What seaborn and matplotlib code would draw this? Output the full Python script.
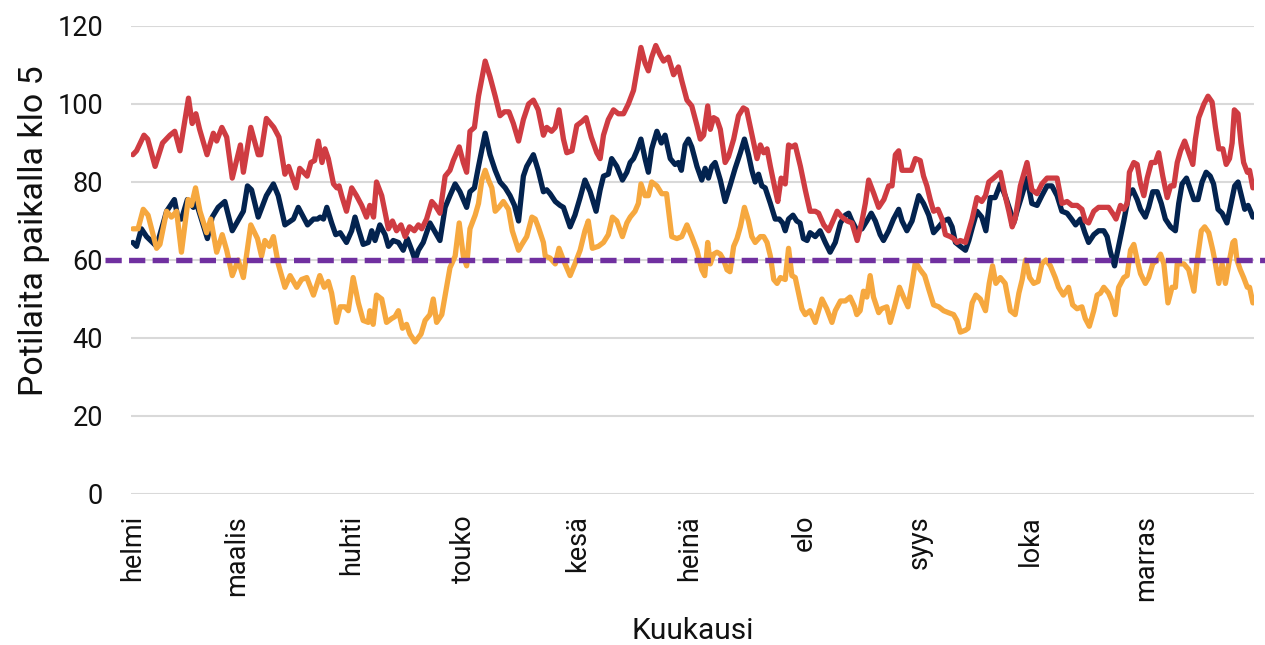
import numpy as np
import pandas as pd
import seaborn as sns
import matplotlib.pyplot as plt

# daily patient counts at 5 o'clock (day 0 = 1 Feb)
start = pd.Timestamp("2023-02-01")
months = ["helmi", "maalis", "huhti", "touko", "kesä", "heinä", "elo", "syys", "loka", "marras"]
target = 60

red_days = [0, 1, 3, 4, 6, 8, 10, 11.3, 12.7, 15, 16, 17, 18, 20, 21.7, 22.6, 24, 25.3, 26.8, 29, 29.8, 31.8, 33.8, 34.5,
            36, 38, 39.4, 41, 42, 44, 45, 47, 48, 49, 50, 51, 51.8, 52.7, 54.1, 55, 55.6, 56.3, 57.6, 59, 60.3, 61.7, 63,
            63.9, 64.9, 65.7, 67.1, 68.9, 70, 71.1, 72.3, 73.4, 74.6, 75.9, 77, 77.9, 79.2, 80.6, 81.5, 82.8, 84.2, 85.5,
            86.4, 88, 89.1, 90, 90.9, 92.1, 93.2, 95, 96.3, 97.7, 99, 100.2, 101.4, 102.6, 104, 105.3, 106.7, 108, 109.3,
            110.7, 111.6, 112.9, 113.9, 114.9, 116.1, 117, 118.4, 119.7, 121.1, 122.2, 123.6, 125.1, 126, 126.9, 128.2,
            129.6, 130.9, 132.3, 133.6, 135, 135.9, 137, 138.1, 139, 139.9, 141, 142.2, 143.1, 144.4, 145.8, 147.1, 148,
            149.4, 150.7, 152.1, 153, 153.9, 155, 155.7, 156.6, 157.5, 158.4, 159.7, 160.6, 162, 163.3, 164.6, 165.5,
            166.5, 167.4, 168.3, 169.2, 170.1, 171, 171.9, 173.2, 173.9, 174.8, 175.9, 176.8, 177.7, 178.6, 180, 181.3,
            182.6, 184, 184.9, 186.3, 187.6, 189, 189.9, 191.2, 192.6, 193.9, 195.3, 196.6, 197.5, 198.4, 199.8, 201.1,
            202.5, 203.8, 204.7, 205.6, 206.5, 207.4, 208.7, 209.9, 211, 212.3, 213.2, 214.1, 215, 215.9, 217.1, 218.2,
            219.1, 220.4, 221.3, 222.2, 223.1, 224.5, 225.4, 226.3, 227.6, 228.9, 229.9, 230.8, 232.1, 233.9, 235.2,
            236.2, 237.1, 237.9, 239.3, 241.1, 242.4, 243.8, 245.1, 246.5, 247.8, 249.2, 250.5, 251.9, 253.2, 254.6,
            255.9, 256.8, 257.7, 259.1, 260.4, 262.2, 263.1, 264.5, 265.1, 266.3, 267.2, 268.1, 268.7, 269.9, 270.8,
            271.7, 272.6, 273.5, 274.6, 275.7, 276.6, 277.7, 278.9, 279.8, 280.7, 281.6, 282.5, 283.6, 284.7, 285.8,
            286.5, 287.4, 288.8, 289.9, 291, 291.9, 292.8, 293.9, 294.8, 295.7, 296.4, 297, 298, 298.8, 299.5, 300.5,
            301.1, 302]
red_vals = [87, 88, 92, 91, 84, 90, 92, 93, 88, 101.5, 95, 97.5, 93.5, 87, 92.5, 90.5, 94, 91.5, 81, 89.5, 82.5, 94, 87, 87,
            96.3, 94, 91.5, 82, 84, 78.5, 83.5, 81.5, 85, 85.5, 90.5, 85, 88.5, 86, 79.5, 78.5, 79, 76.5, 72.5, 78.5, 76.5,
            74, 71, 74, 71, 80, 76.5, 68, 70, 67.5, 69, 66, 68.5, 67.5, 69, 68, 70.5, 75, 74, 72, 81.5, 83, 85.5, 89, 85,
            82.5, 93, 94, 102, 111, 107, 102, 97, 98, 98, 95, 90.5, 96, 100, 101, 98.5, 92, 94, 93, 94, 98.5, 91, 87.5,
            88, 94.5, 95.5, 96.5, 91.5, 87.5, 86, 92, 96, 98.5, 97.5, 97.5, 100, 103.5, 108.5, 114.5, 110.5, 108.5, 112,
            115, 112.5, 111, 112, 107.5, 109.5, 106, 101, 99.5, 94.5, 91, 92, 99.5, 93.5, 96.5, 96, 93.5, 85, 86.5, 91,
            97, 99, 98.5, 94, 90, 86, 89.5, 87.5, 88.5, 84, 78, 75, 81, 79.5, 89.5, 89, 89.5, 84, 78, 72.5, 72.5, 72, 69,
            67.5, 70.5, 72.5, 71, 70, 69.5, 65, 70, 74.5, 80.5, 77, 73.5, 75.5, 79, 79, 87, 88, 83, 83, 83, 86, 85.5,
            81.5, 79, 75.5, 72.5, 73, 70.5, 66.5, 66, 65.5, 64.5, 65, 64.5, 67.5, 70.5, 76, 75, 76.5, 80, 81, 82.5, 76.5,
            72.5, 68.5, 70.5, 79, 85, 78, 77, 79.5, 81, 81, 81, 74.5, 75, 74, 74, 73, 70, 69.5, 72.5, 73.5, 73.5, 73.5,
            71.5, 70.5, 74, 73, 74.5, 82.5, 85, 84.5, 79.5, 76.5, 81, 85, 85, 87.5, 81.5, 76, 79, 79, 85, 88, 90.5, 87.5,
            84.5, 91, 96.5, 100, 102, 100.5, 94, 88.5, 88.5, 84.5, 86, 90, 98.5, 97.5, 90, 85, 82.5, 83, 78.5]

navy_days = [0, 1, 2.3, 3.7, 6.4, 9.1, 11.2, 12.2, 13.1, 14.7, 16.3, 17, 20.1, 21.4, 23, 24.8, 26.8, 28.9, 29.8, 30.9, 32,
             33.8, 36, 37.9, 39.2, 41, 43.3, 44.6, 47.1, 48.7, 49.8, 50.5, 51.4, 52.3, 53.6, 54.7, 55.9, 57.6, 59, 59.9,
             60.8, 62.1, 63.5, 64.4, 65.3, 66.6, 68, 68.9, 70.2, 71.6, 72.9, 74, 75.2, 76.1, 77, 78.3, 80.1, 81.3, 82.8,
             84.2, 85.5, 86.9, 88.2, 90, 90.9, 92.1, 93.2, 95, 96.3, 97.7, 99, 100.4, 101.7, 102.9, 104, 105.3, 106.2, 108,
             109.3, 110.7, 111.6, 112.5, 113.9, 115.2, 116.1, 117.9, 119.2, 120.6, 121.9, 123.3, 124.9, 126, 126.9, 128.2,
             129.1, 130.5, 132, 133.2, 134.1, 135, 135.9, 137, 138.1, 139, 139.9, 141.3, 142.5, 143.5, 144.9, 146.2,
             147.1, 147.9, 148.9, 149.8, 150.7, 152.1, 153.4, 154.3, 155.2, 156.1, 157, 158.4, 159.7, 161, 162.4, 163.8,
             164.9, 166, 166.9, 167.8, 168.7, 169.6, 170.5, 171.9, 173.2, 174.3, 175.2, 175.9, 176.8, 178, 179, 179.9,
             180.8, 181.8, 182.6, 184, 185.3, 186.7, 188, 189.4, 190.8, 192.1, 193, 193.9, 195.3, 196.6, 197.9, 199.1,
             200.2, 201.5, 202.4, 203.8, 205.1, 206.5, 207.4, 208.7, 210.1, 211.9, 213.2, 214.6, 215.9, 217.3, 218.6,
             219.9, 220.9, 221.8, 223.1, 224.5, 225.4, 226.4, 227.6, 228.9, 230, 231.2, 232.5, 233.9, 235.2, 236.6, 237.5,
             238.4, 239.7, 241.1, 242.4, 243.8, 245.1, 246.5, 247.8, 249.2, 250.5, 251.9, 253.1, 254.2, 255.5, 256.7,
             257.7, 259.1, 260.4, 261.8, 262.7, 263.6, 264.7, 265.8, 267.2, 268.5, 269.6, 270.8, 271.7, 273, 273.9, 275,
             276.2, 277.3, 278.4, 279.8, 281.1, 282, 282.9, 284.1, 285.2, 286.1, 287.2, 288.3, 289.4, 290.5, 291.4, 292.6,
             293.7, 295, 295.9, 297.1, 298, 298.9, 299.8, 300.7, 301.4, 302]
navy_vals = [64.5, 63.5, 68, 66, 63.5, 72.5, 75.5, 70.5, 70.5, 75.5, 73.5, 75, 65.5, 71, 73.5, 75, 67.5, 71, 72.5, 79, 78,
             71, 76.5, 79.5, 76.5, 69, 70.5, 73.5, 69, 70.5, 70.5, 71, 70.5, 73.5, 69.5, 66.5, 67, 64.5, 67.5, 71, 68, 64,
             64.5, 67.5, 65, 69, 66.5, 63.5, 65, 64.5, 62.5, 65.5, 62.5, 60, 62.5, 64.5, 69.5, 67.5, 65, 73.5, 76.5, 79.5,
             77.5, 73.5, 77.5, 78.5, 84, 92.5, 87, 83, 80, 78.5, 76.5, 74, 70, 81.5, 84, 87, 83, 77.5, 78, 77, 75, 74, 73.5,
             68.5, 71.5, 76, 80.5, 77.5, 72.5, 78, 81.5, 82, 86, 84, 80.5, 82.5, 85, 86, 88, 91, 86, 82.5, 88.5, 93, 90, 92,
             86, 84.5, 85, 83, 89.5, 91, 89, 84, 80.5, 83.5, 81, 84, 85, 80.5, 75, 79, 83.5, 87.5, 91, 87, 83, 80, 82, 79,
             78.5, 74.5, 70.5, 70.5, 69.5, 67.5, 70.5, 71.5, 70, 69.5, 65.5, 65, 67, 66, 67.5, 64.5, 62, 64.5, 69.5, 71.5,
             72, 70, 67.5, 68, 70, 72, 70, 66.5, 65, 67.5, 70.5, 73, 70, 67.5, 70, 76.5, 74.5, 71.5, 67, 68.5, 70, 70.5,
             68.5, 64.5, 63.5, 62.5, 65, 68.5, 72.5, 71, 67.5, 76, 76, 79.5, 76.5, 72.5, 69.5, 72.5, 76.5, 81, 74.5, 74,
             76.5, 79, 79, 76.5, 72.5, 72, 70.5, 69, 70.5, 67, 64.5, 66.5, 67.5, 67.5, 66, 62, 58.5, 63.5, 70, 76.5, 78,
             75.5, 73, 71, 73.5, 77.5, 77.5, 74.5, 70.5, 68.5, 67.5, 74.5, 79.5, 81, 78, 75.5, 75.5, 80, 82.5, 81.5, 79.5,
             73, 72, 69.5, 73.5, 79, 80, 76.5, 73, 74, 72.5, 71]

orange_days = [0, 1.4, 2.8, 4.1, 6.4, 7.3, 9.1, 10.4, 11.8, 13.1, 14.9, 15.8, 16.9, 18.1, 19.9, 21, 22.6, 24.1, 25.3, 26.8,
               28.4, 29.8, 31.8, 33.6, 34.7, 35.6, 36.8, 37.9, 39.2, 41, 42.4, 44.2, 45.5, 46.9, 48.7, 50.4, 51.6, 52.7,
               53.6, 54.9, 55.9, 57.2, 58.1, 59.4, 60.8, 62.1, 63.5, 63.9, 64.8, 65.7, 67.1, 68.4, 69.8, 70.7, 71.6, 72.7,
               73.8, 74.7, 76.1, 77.7, 78.8, 80.1, 81, 81.9, 83.3, 84.6, 85.5, 86.9, 88, 89.1, 90, 90.9, 92.3, 93.2, 94.1,
               95, 95.9, 96.8, 97.7, 98.7, 99.9, 101.3, 102.3, 104, 104.9, 106.2, 107.6, 108.5, 109.3, 110.7, 111.2,
               112.5, 113.9, 114.9, 116.1, 117.9, 119.2, 120.6, 121.9, 122.8, 123.9, 125.5, 126.9, 128.2, 129.3, 130.5,
               132, 133.2, 134.1, 135.4, 136.3, 137, 138.1, 139, 139.9, 141.3, 142.6, 143.9, 145.3, 146.7, 148, 149.4,
               150.7, 152.1, 153.4, 154.2, 155, 155.7, 156.6, 157.5, 158.4, 159.3, 160.2, 161, 162, 162.9, 163.8, 164.9,
               166, 166.9, 167.8, 169.2, 170.1, 171, 171.9, 172.8, 173.7, 174.6, 175.9, 176.8, 177.7, 178.6, 179.5,
               180.4, 181.3, 182.6, 184, 184.9, 185.8, 187.1, 188.5, 189.4, 190.8, 192.1, 193.4, 194.6, 195.2, 196.1, 197,
               197.9, 198.8, 199.7, 201.1, 201.9, 203.3, 204.2, 205.1, 206.7, 207.8, 209, 210.1, 211, 212.3, 213.5, 214.6,
               215.9, 217.3, 218.6, 219.9, 221.3, 222.2, 223.1, 224.5, 225.2, 226.3, 227.3, 228.5, 229.9, 230.9, 231.8,
               232.7, 233.9, 235.2, 236.6, 237.9, 238.9, 239.8, 240.7, 241.8, 242.9, 244.1, 245.1, 246.2, 247.4, 248.7,
               249.6, 250.9, 252.3, 253.4, 254.6, 255.9, 256.8, 257.9, 259.1, 260, 260.9, 261.8, 263.1, 264, 264.9, 265.8,
               267.2, 268.1, 269, 269.9, 270.8, 271.7, 273, 273.9, 275, 276.2, 277.1, 278, 279.1, 280.2, 281.1, 281.6,
               282.5, 283.4, 284.7, 286.1, 287, 288.1, 289, 290.1, 291.2, 291.9, 292.8, 293.7, 294.6, 295.5, 296.6, 297.1,
               297.7, 298.6, 299.5, 300.5, 301.1, 302]
orange_vals = [68, 68, 73, 71.5, 63, 64, 72.5, 71, 72.5, 62, 75.5, 74, 78.5, 72.5, 67, 70.5, 62, 66.5, 62.5, 56, 60, 55.5,
               69, 65.5, 61, 65, 63.5, 66, 59, 53, 56, 53, 55, 55.5, 51, 56, 53, 54.5, 51.5, 44, 48, 48, 47, 55.5, 49, 44.5,
               44, 47, 43.5, 51, 50, 44, 45, 45.5, 47, 42.5, 43.5, 41, 39, 41, 44.5, 46, 50, 44, 46, 53, 58, 61, 69.5, 61,
               58.5, 68, 71.5, 74.5, 80.5, 83, 80.5, 78.5, 72.5, 73.5, 75, 73, 67.5, 62.5, 64, 66, 71, 70.5, 68.5, 64.5,
               61, 60.5, 59, 63, 60, 56, 59, 62.5, 67.5, 70, 63, 63.5, 64.5, 66.5, 71, 70, 66, 69.5, 71, 72.5, 74.5, 79.5,
               76.5, 76.5, 80, 79, 77, 77, 66, 65.5, 66, 69, 66, 62.5, 57.5, 56, 64.5, 59, 61.5, 62, 61.5, 60, 57.5, 57,
               63.5, 65.5, 68.5, 73.5, 70, 66, 64.5, 66, 66, 64.5, 61, 55, 54, 55.5, 55, 63, 56, 55.5, 51.5, 47.5, 46, 47,
               44, 47, 50, 47.5, 44, 47, 49.5, 49.5, 50.5, 48, 46, 47, 52, 50.5, 56, 50.5, 46.5, 47.5, 48, 44, 47, 53,
               50.5, 48, 54, 59.5, 57.5, 56, 52.5, 48.5, 48, 47, 46.5, 46, 44.5, 41.5, 42, 42.5, 49, 51, 50, 47, 54, 58.5,
               54, 55.5, 54, 47, 46, 51.5, 55, 60, 55.5, 54, 54.5, 59, 60, 58.5, 55.5, 53, 51, 53, 48.5, 47.5, 48, 45, 43,
               47, 51, 51.5, 53, 51.5, 49.5, 46, 53, 55.5, 56, 62.5, 64, 60, 56.5, 54, 55.5, 59, 60, 61.5, 59, 49, 53, 53,
               59, 59, 59, 57.5, 52, 60, 67.5, 68.5, 67, 62.5, 59, 54, 59, 54, 59, 64.5, 65, 60, 57.5, 55.5, 53, 53, 49]

RED = "#cf3c42"
NAVY = "#03234f"
ORANGE = "#f6a83f"
PURPLE = "#7030a0"
GRID = "#d9d9d9"
TEXT = "#111111"


def to_dates(days):
    return start + pd.to_timedelta(np.asarray(days, dtype=float), unit="D")


sns.set_theme(style="white")
plt.rcParams["font.family"] = ["Roboto", "DejaVu Sans"]

fig = plt.figure(figsize=(12.65, 6.45), dpi=100)
ax = fig.add_axes([131 / 1265, 1 - 494 / 645, 1123 / 1265, 468 / 645])

# draw order: navy, red, orange, then the target line on top
lw = 3.8
sns.lineplot(x=to_dates(navy_days), y=navy_vals, color=NAVY, lw=lw, ax=ax)
sns.lineplot(x=to_dates(red_days), y=red_vals, color=RED, lw=lw, ax=ax)
sns.lineplot(x=to_dates(orange_days), y=orange_vals, color=ORANGE, lw=lw, ax=ax)
ax.plot([-0.023, 1.01], [target, target], transform=ax.get_yaxis_transform(), color=PURPLE,
        lw=3.9, dashes=(3.0, 1.35), clip_on=False, solid_capstyle="butt", dash_capstyle="butt")

ax.set_ylim(0, 120)
ax.set_xlim(start - pd.Timedelta(days=0.5), start + pd.Timedelta(days=302.3))
ax.set_yticks(range(0, 121, 20))
ax.yaxis.grid(True, color=GRID, lw=1.5)
ax.xaxis.grid(False)
ax.set_axisbelow(True)
for s in ax.spines.values():
    s.set_visible(False)

ticks = pd.date_range(start, periods=len(months), freq="MS")
ax.set_xticks(ticks)
ax.set_xticklabels(months, rotation=90)
ax.tick_params(axis="x", length=0, pad=15, labelsize=19.5, colors=TEXT)
ax.tick_params(axis="y", length=0, pad=20, labelsize=19.5, colors=TEXT)

ax.set_ylabel("Potilaita paikalla klo 5", fontsize=24.5, color=TEXT)
ax.yaxis.set_label_coords(-0.072, 0.562)
ax.set_xlabel("Kuukausi", fontsize=21.5, color=TEXT)
ax.xaxis.set_label_coords(0.5, -0.262)

fig.savefig("out.png", dpi=100)
